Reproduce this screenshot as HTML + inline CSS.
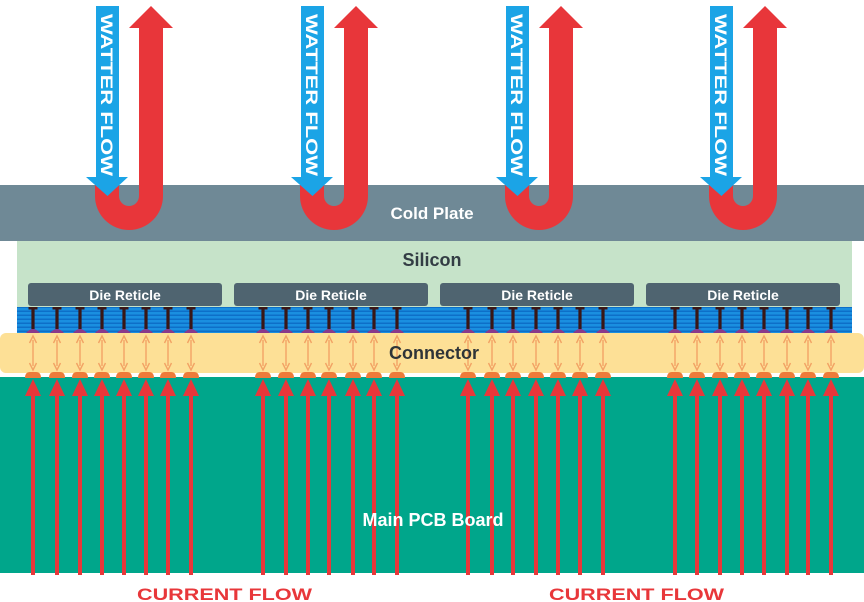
<!DOCTYPE html>
<html><head><meta charset="utf-8"><style>
html,body{margin:0;padding:0;background:#fff;}
svg{display:block;}
text{font-family:"Liberation Sans",sans-serif;font-weight:bold;}
</style></head><body>
<svg id="s" width="864" height="602" viewBox="0 0 864 602" xmlns="http://www.w3.org/2000/svg">
<defs>
<pattern id="stripes" width="10" height="4" patternUnits="userSpaceOnUse">
<rect width="10" height="4" fill="#1a8fe0"/><rect y="2.5" width="10" height="1.5" fill="#0d6fc8"/>
</pattern>
</defs>
<rect x="0" y="185" width="864" height="56" fill="#6f8996"/>
<rect x="17" y="241" width="835" height="92" fill="#c6e3c9"/>
<rect x="17" y="307" width="835" height="26" fill="url(#stripes)"/>
<rect x="0" y="333" width="864" height="40" rx="6" fill="#fde096"/>
<rect x="0" y="377" width="864" height="196" fill="#00a68b"/>
<g id="dyn"></g>
<text x="432" y="219" font-size="17" fill="#fff" text-anchor="middle">Cold Plate</text>
<text x="432" y="266" font-size="18" fill="#333d44" text-anchor="middle">Silicon</text>
<text x="125" y="300" font-size="14" fill="#fff" text-anchor="middle">Die Reticle</text>
<text x="331" y="300" font-size="14" fill="#fff" text-anchor="middle">Die Reticle</text>
<text x="537" y="300" font-size="14" fill="#fff" text-anchor="middle">Die Reticle</text>
<text x="743" y="300" font-size="14" fill="#fff" text-anchor="middle">Die Reticle</text>
<text x="434" y="359" font-size="18" fill="#2f3438" text-anchor="middle">Connector</text>
<text x="433" y="526" font-size="18" fill="#fff" text-anchor="middle">Main PCB Board</text>
<text x="137" y="600" font-size="17" fill="#e8373a" textLength="175" lengthAdjust="spacingAndGlyphs">CURRENT FLOW</text>
<text x="549" y="600" font-size="17" fill="#e8373a" textLength="175" lengthAdjust="spacingAndGlyphs">CURRENT FLOW</text>
<g id="wf"></g>
</svg>
<script>
var NS="http://www.w3.org/2000/svg";
var dyn=document.getElementById("dyn");
function el(t,a,p){var e=document.createElementNS(NS,t);for(var k in a)e.setAttribute(k,a[k]);(p||dyn).appendChild(e);return e;}
[28,234,440,646].forEach(function(x){el("rect",{x:x,y:283,width:194,height:23,rx:3,fill:"#4f6470"});});
var pins=[33,57,80,102,124,146,168,191,263,286,308,329,353,374,397,468,492,513,536,558,580,603,675,697,720,742,764,787,808,831];
pins.forEach(function(x){
 el("rect",{x:x-1.6,y:307,width:3.2,height:22,fill:"#3a1616"});
 el("rect",{x:x-4.5,y:307,width:9,height:2.5,fill:"#3a1616"});
 el("path",{d:"M"+(x-7)+" 333 Q"+x+" 325 "+(x+7)+" 333 Z",fill:"#8a3a8a"});
 el("line",{x1:x,y1:340,x2:x,y2:366,stroke:"#f2a365","stroke-width":1.4});
 el("path",{d:"M"+(x-3.5)+" 343 L"+x+" 336 L"+(x+3.5)+" 343",fill:"none",stroke:"#f2a365","stroke-width":1.4});
 el("path",{d:"M"+(x-3.5)+" 363 L"+x+" 370 L"+(x+3.5)+" 363",fill:"none",stroke:"#f2a365","stroke-width":1.4});
 el("path",{d:"M"+(x-8)+" 378 Q"+(x-8)+" 372 "+(x-3)+" 372 L"+(x+3)+" 372 Q"+(x+8)+" 372 "+(x+8)+" 378 Z",fill:"#ee7b3a"});
 el("rect",{x:x-2,y:392,width:4,height:183,fill:"#e8373a"});
 el("path",{d:"M"+(x-8)+" 396 L"+x+" 379 L"+(x+8)+" 396 Z",fill:"#e8373a"});
});
var wf=document.getElementById("wf");
[0,205,410,614].forEach(function(o){
 var g=el("g",{transform:"translate("+o+",0)"},wf);
 el("path",{d:"M95 180 L95 196 A34 34 0 0 0 163 196 L163 28 L173 28 L151 6 L129 28 L139 28 L139 196 A10 10 0 0 1 119 196 L119 180 Z",fill:"#e8363a"},g);
 el("path",{d:"M96 6 L119 6 L119 177 L128 177 L107.5 196 L86 177 L96 177 Z",fill:"#1ba4e6"},g);
 var t=el("text",{x:0,y:0,transform:"translate(101,14) rotate(90)","font-size":"17",fill:"#fff","font-family":"Liberation Sans,sans-serif","font-weight":"bold",textLength:"162",lengthAdjust:"spacingAndGlyphs"},g);
 t.textContent="WATTER FLOW";
});
</script>
</body></html>
